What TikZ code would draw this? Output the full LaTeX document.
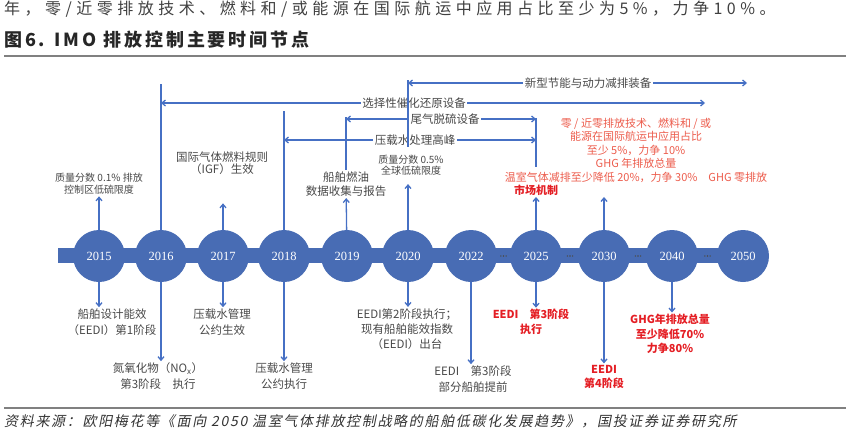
\documentclass[tikz,border=0pt]{standalone}
\usepackage{fontspec}
\usepackage{tikz}
\usetikzlibrary{arrows.meta,positioning,calc}
\setmainfont{Noto Sans CJK SC}
\newfontfamily\leadfont{Noto Sans CJK SC}[LetterSpace=28]
\newfontfamily\headfont{Noto Sans CJK SC}[LetterSpace=16]
\newfontfamily\srcfont{Noto Sans CJK SC}[FakeSlant=0.2,LetterSpace=12]
\newfontfamily\yearfont{Liberation Serif}
\definecolor{circblue}{RGB}{72,108,180}
\definecolor{linkblue}{RGB}{70,112,196}
\definecolor{txtgray}{RGB}{72,72,72}
\definecolor{softred}{RGB}{236,92,76}
\definecolor{hardred}{RGB}{228,30,36}
\definecolor{rulegray}{RGB}{128,128,128}

\begin{document}
\begin{tikzpicture}[x=1pt, y=-1pt,
    yearc/.style = {circle, fill=circblue, minimum size=52pt, inner sep=0pt,
                    text=white, font=\yearfont\fontsize{12.5}{14}\selectfont},
    note/.style = {align=center, inner sep=1.5pt, text=txtgray,
                   font=\fontsize{11.5}{15.5}\selectfont},
    topnote/.style = {note, font=\fontsize{11.5}{13}\selectfont},
    small/.style = {note, font=\fontsize{10}{12}\selectfont},
    rednote/.style = {note, text=softred, font=\fontsize{11}{13.5}\selectfont},
    redbold/.style = {note, text=hardred, font=\bfseries\fontsize{11}{14.5}\selectfont},
    dot/.style = {circle, fill=black!70, inner sep=0pt, minimum size=1.6pt},
    arr/.style = {-{Straight Barb[length=3.5pt,width=6pt]}, linkblue, line width=1.3pt},
    link/.style = {linkblue, line width=1.3pt}
  ]
    \useasboundingbox (0,0) rectangle (851,431);

    \node[anchor=west, inner sep=0pt, text=black!75, font=\leadfont\fontsize{16}{16}\selectfont] (lead) at (4,9)
      {年，零/近零排放技术、燃料和/或能源在国际航运中应用占比至少为5\%，力争10\%。};
    \node[anchor=west, inner sep=0pt, text=black!85, font=\headfont\bfseries\fontsize{18}{18}\selectfont] (title) at (4,40)
      {图6. IMO 排放控制主要时间节点};
    \draw[rulegray, line width=2pt] (4,56) -- (846,56);

    \fill[circblue] (58,248) rectangle (743,263);
    \begin{scope}
      \clip (0,60) rectangle (769,400);
      \foreach \yr/\x in {2015/99, 2016/161, 2017/223, 2018/284, 2019/347, 2020/408,
                          2022/471, 2025/536, 2030/604, 2040/672, 2050/743}
        \node[yearc] (y\yr) at (\x,256) {\yr};
    \end{scope}
    \foreach \a/\b in {2022/2025, 2025/2030, 2030/2040, 2040/2050} {
      \coordinate (d\a) at ($(y\a.east)!0.5!(y\b.west)$);
      \foreach \k in {-2.6,0,2.6}
        \node[dot] at ([xshift=\k pt]d\a) {};
    }

    \coordinate (top2016) at (161,84);
    \coordinate (top2018) at (284,111);
    \coordinate (top2019) at (346,117);
    \coordinate (top2020) at (408,80);
    \coordinate (top2025) at (536,118);
    \coordinate (bot2025) at (536,167);
    \coordinate (scrend) at (705,103);
    \coordinate (newend) at (747,83);

    \node[topnote] (newequip) at (588,83) {新型节能与动力减排装备};
    \node[topnote] (scr) at (414,103) {选择性催化还原设备};
    \node[topnote] (scrub) at (445,119) {尾气脱硫设备};
    \node[topnote] (ballast) at (415,140) {压载水处理高峰};

    \node[small] (sulf01) at (99,184) {质量分数 0.1\% 排放\\控制区低硫限度};
    \node[note, font=\fontsize{11.5}{12.5}\selectfont] (igf) at (222,163) {国际气体燃料规则\\（IGF）生效};
    \node[note, font=\fontsize{11.5}{14}\selectfont] (dcs) at (346,184) {船舶燃油\\数据收集与报告};
    \node[small, font=\fontsize{10}{11.5}\selectfont] (sulf05) at (411,165) {质量分数 0.5\%\\全球低硫限度};
    \node[rednote] (zeroe) at (636,150)
      {零 / 近零排放技术、燃料和 / 或\\能源在国际航运中应用占比\\至少 5\%，力争 10\%\\GHG 年排放总量\\温室气体减排至少降低 20\%，力争 30\%\quad GHG 零排放};
    \node[redbold] (market) at (536,190) {市场机制};

    \node[note] (eedi1) at (112,322) {船舶设计能效\\（EEDI）第1阶段};
    \node[note] (nox) at (158,376) {氮氧化物（NO\textsubscript{x}）\\第3阶段\quad 执行};
    \node[note] (bwm1) at (222,322) {压载水管理\\公约生效};
    \node[note] (bwm2) at (284,376) {压载水管理\\公约执行};
    \node[note, font=\fontsize{11.5}{15}\selectfont] (eedi2) at (407,329) {EEDI第2阶段执行；\\现有船舶能效指数\\（EEDI）出台};
    \node[note] (eedi3a) at (473,379) {EEDI\quad 第3阶段\\部分船舶提前};
    \node[redbold] (eedi3b) at (531,322) {EEDI\quad 第3阶段\\执行};
    \node[redbold] (eedi4) at (604,377) {EEDI\\第4阶段};
    \node[redbold] (ghg) at (670,334) {GHG年排放总量\\至少降低70\%\\力争80\%};

    \draw[arr] (y2015) -- (sulf01);
    \draw[link] (y2016) -- (top2016);
    \draw[arr] (y2017) -- ([yshift=-27pt]igf.south -| y2017);
    \draw[link] (y2018) -- (top2018);
    \draw[arr] (y2019) -- (dcs);
    \draw[link] (dcs.north) -- (top2019);
    \draw[arr] (y2020) -- ([yshift=-7pt]sulf05.south -| y2020);
    \draw[link] (top2020) -- ([yshift=6pt]sulf05.north -| top2020);
    \draw[arr] (y2025) -- (market);
    \draw[link] (top2025) -- (bot2025);
    \draw[arr] (y2030) -- (y2030 |- market.south);

    \draw[arr] (newequip.west) -- (newequip.west -| top2020);
    \draw[arr] (newequip.east) -- (newend);
    \draw[arr] (scr.west) -- (scr.west -| top2016);
    \draw[arr] (scr.east) -- (scrend);
    \draw[arr] (scrub.west) -- (scrub.west -| top2019);
    \draw[arr] (scrub.east) -- (scrub.east -| top2025);
    \draw[arr] (ballast.west) -- (ballast.west -| top2018);
    \draw[arr] (ballast.east) -- (ballast.east -| top2025);

    \draw[arr] (y2015) -- (y2015 |- eedi1.north);
    \draw[arr] (y2016) -- (y2016 |- nox.north);
    \draw[arr] (y2017) -- (y2017 |- bwm1.north);
    \draw[arr] (y2018) -- (y2018 |- bwm2.north);
    \draw[arr] (y2020) -- (y2020 |- eedi2.north);
    \draw[arr] (y2022) -- (y2022 |- eedi3a.north);
    \draw[arr] (y2025) -- (y2025 |- eedi3b.north);
    \draw[arr] (y2030) -- (y2030 |- eedi4.north);
    \draw[arr] (y2040) -- (y2040 |- ghg.north);

    \draw[rulegray, line width=2pt] (4,408) -- (846,408);
    \node[anchor=west, inner sep=0pt, text=black!80, font=\srcfont\fontsize{14}{14}\selectfont] (source) at (4,421)
      {资料来源：欧阳梅花等《面向 2050 温室气体排放控制战略的船舶低碳化发展趋势》，国投证券证券研究所};
  \end{tikzpicture}
\end{document}
